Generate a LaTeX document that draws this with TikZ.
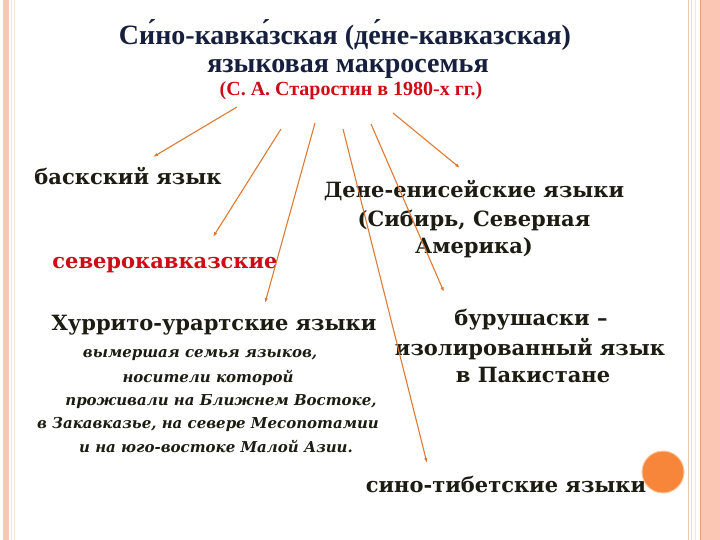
\documentclass[tikz,border=0pt]{standalone}
\usepackage{fontspec}
\setmainfont{Liberation Serif}
\newfontfamily\bodyfont{DejaVu Serif}
\usetikzlibrary{arrows.meta}

\definecolor{titleblue}{RGB}{22,32,62}
\definecolor{darktext}{RGB}{28,28,18}
\definecolor{redtext}{RGB}{205,12,22}
\definecolor{arrowcol}{RGB}{222,122,52}
\definecolor{borderpink}{RGB}{252,198,180}
\definecolor{borderdark}{RGB}{236,160,130}
\definecolor{borderline}{RGB}{228,200,186}
\definecolor{borderpale}{RGB}{240,228,236}
\definecolor{dotorange}{RGB}{247,133,58}
\definecolor{dotedge}{RGB}{252,200,160}

\tikzset{
  titletext/.style={font=\fontsize{28}{30}\selectfont\bfseries, text=titleblue, anchor=base},
  authortext/.style={font=\fontsize{20}{22}\selectfont\bfseries, text=redtext, anchor=base},
  langtext/.style={font=\bodyfont\bfseries\fontsize{21}{26}\selectfont, text=darktext, anchor=base},
  redlang/.style={langtext, text=redtext},
  notetext/.style={font=\bodyfont\bfseries\itshape\fontsize{15}{18}\selectfont, text=darktext, anchor=base},
  branch/.style={arrowcol, line width=1.1pt, -{Latex[length=5pt,width=3.5pt]}},
}

\begin{document}
\begin{tikzpicture}[x=1pt, y=-1pt]
\useasboundingbox (0,0) rectangle (720,540);
\fill[white] (0,0) rectangle (720,540);

% side borders
\fill[borderpink] (3,0) rectangle (9,540);
\draw[borderpale, line width=0.8pt] (11,0) -- (11,540);
\draw[borderline!50, line width=0.6pt] (14,0) -- (14,540);
\draw[borderline, line width=0.8pt] (688,0) -- (688,540);
\draw[borderline!60, line width=0.6pt] (691,0) -- (691,540);
\draw[borderpale, line width=0.8pt] (695,0) -- (695,540);
\fill[borderpink] (700,0) rectangle (720,540);
\draw[borderdark, line width=1pt] (700.5,0) -- (700.5,540);

% title
\node[titletext] (titleTop) at (345,45) {Си́но-кавка́зская (де́не-кавказская)};
\node[titletext] (titleBottom) at (348,73) {языковая макросемья};
\node[authortext] (author) at (351,96) {(С. А. Старостин в 1980-х гг.)};

% branches
\node[langtext] (basque) at (128,185) {баскский язык};
\node[redlang] (northCaucasian) at (165,268) {северокавказские};
\node[langtext] (deneA) at (474,197) {Дене-енисейские языки};
\node[langtext] (deneB) at (474,226) {(Сибирь, Северная};
\node[langtext] (deneC) at (474,254) {Америка)};
\node[langtext] (hurrian) at (214,330) {Хуррито-урартские языки};
\node[notetext] (noteA) at (200,357) {вымершая семья языков,};
\node[notetext] (noteB) at (208,382) {носители которой};
\node[notetext] (noteC) at (221,405) {проживали на Ближнем Востоке,};
\node[notetext] (noteD) at (208,428) {в Закавказье, на севере Месопотамии};
\node[notetext] (noteE) at (216,452) {и на юго-востоке Малой Азии.};
\node[langtext] (burA) at (531,325) {бурушаски –};
\node[langtext] (burB) at (530,355) {изолированный язык};
\node[langtext] (burC) at (533,382) {в Пакистане};
\node[langtext] (sinoTibetan) at (506,492) {сино-тибетские языки};

% arrow ends
\coordinate (basqueTail) at (237,107);
\coordinate (basqueHead) at (153,157);
\coordinate (caucTail) at (281,129);
\coordinate (caucHead) at (213,237);
\coordinate (hurrTail) at (315,123);
\coordinate (hurrHead) at (265,303);
\coordinate (sinoTail) at (343,129);
\coordinate (sinoHead) at (427,463);
\coordinate (burTail) at (371,124);
\coordinate (burHead) at (444,292);
\coordinate (deneTail) at (393,113);
\coordinate (deneHead) at (460,168);

\draw[branch] (basqueTail) -- (basqueHead);
\draw[branch] (caucTail) -- (caucHead);
\draw[branch] (hurrTail) -- (hurrHead);
\draw[branch] (sinoTail) -- (sinoHead);
\draw[branch] (burTail) -- (burHead);
\draw[branch] (deneTail) -- (deneHead);

% corner dot
\fill[dotorange, draw=dotedge, line width=1pt] (663,472) circle (21pt);

\end{tikzpicture}
\end{document}
